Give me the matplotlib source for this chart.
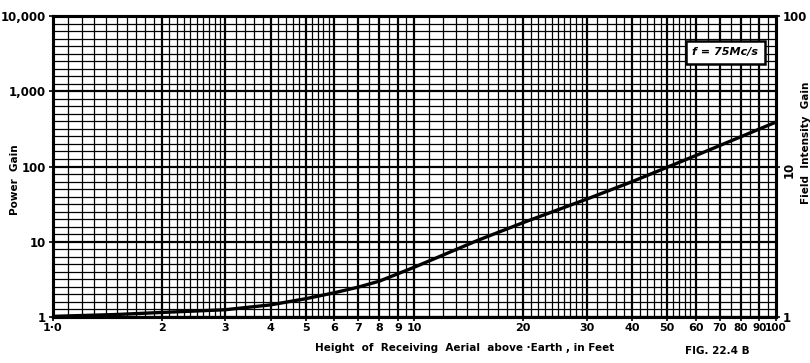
import numpy as np
import matplotlib
matplotlib.use("Agg")
import matplotlib.pyplot as plt

# Aerial height (feet) vs power gain
height_ft = [1, 1.5, 2, 3, 4, 5, 6, 7, 8, 10, 15, 20, 30, 40, 60, 100]
power_gain = [1.02, 1.08, 1.15, 1.25, 1.45, 1.75, 2.1, 2.5, 3.0, 4.6, 10.5, 18, 37, 63, 140, 390]

x_ticks = [1, 2, 3, 4, 5, 6, 7, 8, 9, 10, 20, 30, 40, 50, 60, 70, 80, 90, 100]
x_ticklabels = ["1·0", "2", "3", "4", "5", "6", "7", "8", "9", "10",
                "20", "30", "40", "50", "60", "70", "80", "90", "100"]
y_ticks = [1, 10, 100, 1000, 10000]
y_ticklabels = ["1", "10", "100", "1,000", "10,000"]
right_ticks = [1, 10, 100]
right_ticklabels = ["1", "10", "100"]

plt.rcParams['font.family'] = ['DejaVu Sans']
plt.rcParams['font.weight'] = 'bold'

fig = plt.figure(figsize=(8.1, 3.63), dpi=100)
ax = fig.add_axes([0.0654, 0.1267, 0.8926, 0.829])
ax.set_xscale('log')
ax.set_yscale('log')
ax.set_xlim(1, 100)
ax.set_ylim(1, 10000)

# graph-paper grid: log verticals (finer at the low end of each decade),
# 10 evenly spaced lines per decade horizontally
steps = [(1, 3, 0.1), (3, 6, 0.2), (6, 10, 0.5)]
for dec in [1, 10]:
    for lo, hi, st in steps:
        for v in np.arange(lo, hi - 1e-9, st):
            heavy = abs(v - round(v)) < 1e-6
            ax.axvline(round(v, 2) * dec, color='black',
                       lw=1.6 if heavy else 0.9, zorder=1)
for k in range(0, 40):
    ax.axhline(10 ** (k / 10), color='black',
               lw=1.6 if k % 10 == 0 else 0.9, zorder=1)

ax.plot(height_ft, power_gain, color='black', lw=2.4, zorder=3,
        solid_capstyle='round')

for sp in ax.spines.values():
    sp.set_linewidth(2.2)

ax.xaxis.set_minor_locator(matplotlib.ticker.NullLocator())
ax.yaxis.set_minor_locator(matplotlib.ticker.NullLocator())
ax.set_xticks(x_ticks)
ax.set_xticklabels(x_ticklabels, fontsize=8, fontweight='bold')
for lab in ax.get_xticklabels()[-4:]:
    lab.set_fontsize(7.5)
ax.set_yticks(y_ticks)
ax.set_yticklabels(y_ticklabels, fontsize=8.5, fontweight='bold')
ax.tick_params(axis='x', length=3, width=1.2, pad=1.5)
ax.tick_params(axis='y', length=3, width=1.2, pad=2)

ax.set_xlabel("Height  of  Receiving  Aerial  above ·Earth , in Feet",
              fontsize=7.5, fontweight='bold')
ax.xaxis.set_label_coords(0.57, -0.085)
ax.set_ylabel("Power  Gain", fontsize=7.5, fontweight='bold')
ax.yaxis.set_label_coords(-0.045, 0.455)

ax2 = ax.twinx()
ax2.set_yscale('log')
ax2.set_ylim(1, 100)
ax2.yaxis.set_minor_locator(matplotlib.ticker.NullLocator())
ax2.set_yticks(right_ticks)
ax2.set_yticklabels(right_ticklabels, fontsize=8.5, fontweight='bold')
ax2.get_yticklabels()[1].set_rotation(90)
ax2.tick_params(axis='y', length=3, width=1.2, pad=2)
ax2.set_ylabel("Field  Intensity  Gain", fontsize=7.5, fontweight='bold',
               rotation=90)
ax2.yaxis.set_label_coords(1.035, 0.58)
for sp in ax2.spines.values():
    sp.set_linewidth(2.2)

ax.text(0.93, 0.88, "f = 75Mc/s", transform=ax.transAxes, ha='center',
        va='center', fontsize=8, fontweight='bold', style='italic', zorder=5,
        bbox=dict(boxstyle='square,pad=0.6', fc='white', ec='black', lw=1.8))

fig.text(0.885, 0.025, "FIG. 22.4 B", fontsize=7.5, fontweight='bold',
         ha='center')

fig.savefig("out.png", dpi=100)
